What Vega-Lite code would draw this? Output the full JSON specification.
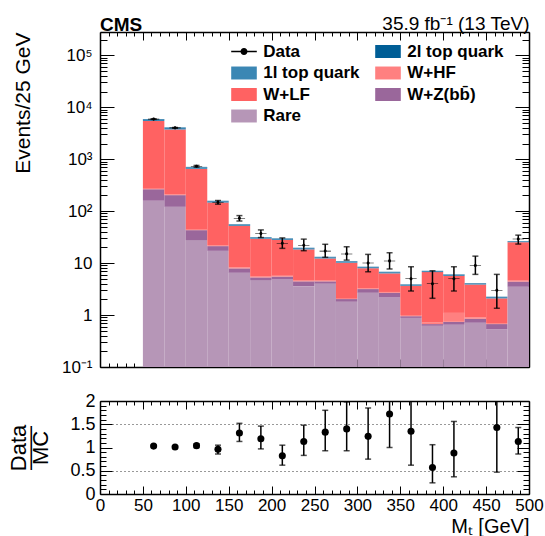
{
  "$schema": "https://vega.github.io/schema/vega-lite/v6.json",
  "background": "white",
  "padding": {"left": 7, "top": 14, "right": 0, "bottom": 0},
  "bounds": "flush",
  "spacing": 34,
  "config": {
    "font": "Liberation Sans",
    "view": {"stroke": null},
    "axis": {
      "domain": true, "domainColor": "black", "domainWidth": 1.5,
      "tickColor": "black", "tickWidth": 1, "labelColor": "black", "titleColor": "black",
      "grid": false, "labelFont": "Liberation Sans", "titleFont": "Liberation Sans",
      "titleFontWeight": "normal", "zindex": 2, "labelOverlap": false, "labelFlush": false, "labelBound": false
    }
  },
  "datasets": {
    "mc": [
      {"lo":50,"hi":75,"p":"Rare","n":158},{"lo":50,"hi":75,"p":"W+Z(bb\u0304)","n":107},{"lo":50,"hi":75,"p":"W+HF","n":15},{"lo":50,"hi":75,"p":"W+LF","n":5150},{"lo":50,"hi":75,"p":"1l top quark","n":350},{"lo":50,"hi":75,"p":"2l top quark","n":120},
      {"lo":75,"hi":100,"p":"Rare","n":121},{"lo":75,"hi":100,"p":"W+Z(bb\u0304)","n":82},{"lo":75,"hi":100,"p":"W+HF","n":8},{"lo":75,"hi":100,"p":"W+LF","n":3509},{"lo":75,"hi":100,"p":"1l top quark","n":260},{"lo":75,"hi":100,"p":"2l top quark","n":90},
      {"lo":100,"hi":125,"p":"Rare","n":27.7},{"lo":100,"hi":125,"p":"W+Z(bb\u0304)","n":15.3},{"lo":100,"hi":125,"p":"W+HF","n":2},{"lo":100,"hi":125,"p":"W+LF","n":605},{"lo":100,"hi":125,"p":"1l top quark","n":45},{"lo":100,"hi":125,"p":"2l top quark","n":15},
      {"lo":125,"hi":150,"p":"Rare","n":17.2},{"lo":125,"hi":150,"p":"W+Z(bb\u0304)","n":4.0},{"lo":125,"hi":150,"p":"W+HF","n":0.6},{"lo":125,"hi":150,"p":"W+LF","n":124.2},{"lo":125,"hi":150,"p":"1l top quark","n":9},{"lo":125,"hi":150,"p":"2l top quark","n":3},
      {"lo":150,"hi":175,"p":"Rare","n":6.5},{"lo":150,"hi":175,"p":"W+Z(bb\u0304)","n":1.4},{"lo":150,"hi":175,"p":"W+HF","n":0.3},{"lo":150,"hi":175,"p":"W+LF","n":43.8},{"lo":150,"hi":175,"p":"1l top quark","n":3},{"lo":150,"hi":175,"p":"2l top quark","n":1},
      {"lo":175,"hi":200,"p":"Rare","n":4.7},{"lo":175,"hi":200,"p":"W+Z(bb\u0304)","n":0.6},{"lo":175,"hi":200,"p":"W+HF","n":0.2},{"lo":175,"hi":200,"p":"W+LF","n":23.9},{"lo":175,"hi":200,"p":"1l top quark","n":1.7},{"lo":175,"hi":200,"p":"2l top quark","n":0.5},
      {"lo":200,"hi":225,"p":"Rare","n":4.8},{"lo":200,"hi":225,"p":"W+Z(bb\u0304)","n":0.7},{"lo":200,"hi":225,"p":"W+HF","n":0.2},{"lo":200,"hi":225,"p":"W+LF","n":22.2},{"lo":200,"hi":225,"p":"1l top quark","n":1.5},{"lo":200,"hi":225,"p":"2l top quark","n":0.5},
      {"lo":225,"hi":250,"p":"Rare","n":3.6},{"lo":225,"hi":250,"p":"W+Z(bb\u0304)","n":0.85},{"lo":225,"hi":250,"p":"W+HF","n":0.15},{"lo":225,"hi":250,"p":"W+LF","n":13.7},{"lo":225,"hi":250,"p":"1l top quark","n":1.0},{"lo":225,"hi":250,"p":"2l top quark","n":0.4},
      {"lo":250,"hi":275,"p":"Rare","n":4.0},{"lo":250,"hi":275,"p":"W+Z(bb\u0304)","n":0.45},{"lo":250,"hi":275,"p":"W+HF","n":0.15},{"lo":250,"hi":275,"p":"W+LF","n":7.65},{"lo":250,"hi":275,"p":"1l top quark","n":0.7},{"lo":250,"hi":275,"p":"2l top quark","n":0.25},
      {"lo":275,"hi":300,"p":"Rare","n":1.8},{"lo":275,"hi":300,"p":"W+Z(bb\u0304)","n":0.23},{"lo":275,"hi":300,"p":"W+HF","n":0.1},{"lo":275,"hi":300,"p":"W+LF","n":8.02},{"lo":275,"hi":300,"p":"1l top quark","n":0.55},{"lo":275,"hi":300,"p":"2l top quark","n":0.2},
      {"lo":300,"hi":325,"p":"Rare","n":2.68},{"lo":300,"hi":325,"p":"W+Z(bb\u0304)","n":0.48},{"lo":300,"hi":325,"p":"W+HF","n":0.1},{"lo":300,"hi":325,"p":"W+LF","n":4.69},{"lo":300,"hi":325,"p":"1l top quark","n":0.4},{"lo":300,"hi":325,"p":"2l top quark","n":0.15},
      {"lo":325,"hi":350,"p":"Rare","n":2.19},{"lo":325,"hi":350,"p":"W+Z(bb\u0304)","n":0.49},{"lo":325,"hi":350,"p":"W+HF","n":0.1},{"lo":325,"hi":350,"p":"W+LF","n":3.55},{"lo":325,"hi":350,"p":"1l top quark","n":0.35},{"lo":325,"hi":350,"p":"2l top quark","n":0.12},
      {"lo":350,"hi":375,"p":"Rare","n":0.88},{"lo":350,"hi":375,"p":"W+Z(bb\u0304)","n":0.07},{"lo":350,"hi":375,"p":"W+HF","n":0.05},{"lo":350,"hi":375,"p":"W+LF","n":2.65},{"lo":350,"hi":375,"p":"1l top quark","n":0.2},{"lo":350,"hi":375,"p":"2l top quark","n":0.05},
      {"lo":375,"hi":400,"p":"Rare","n":0.62},{"lo":375,"hi":400,"p":"W+Z(bb\u0304)","n":0.05},{"lo":375,"hi":400,"p":"W+HF","n":0.05},{"lo":375,"hi":400,"p":"W+LF","n":5.98},{"lo":375,"hi":400,"p":"1l top quark","n":0.3},{"lo":375,"hi":400,"p":"2l top quark","n":0.1},
      {"lo":400,"hi":425,"p":"Rare","n":0.65},{"lo":400,"hi":425,"p":"W+Z(bb\u0304)","n":0.09},{"lo":400,"hi":425,"p":"W+HF","n":0.36},{"lo":400,"hi":425,"p":"W+LF","n":4.56},{"lo":400,"hi":425,"p":"1l top quark","n":0.3},{"lo":400,"hi":425,"p":"2l top quark","n":0.1},
      {"lo":425,"hi":450,"p":"Rare","n":0.71},{"lo":425,"hi":450,"p":"W+Z(bb\u0304)","n":0.14},{"lo":425,"hi":450,"p":"W+HF","n":0.05},{"lo":425,"hi":450,"p":"W+LF","n":2.96},{"lo":425,"hi":450,"p":"1l top quark","n":0.2},{"lo":425,"hi":450,"p":"2l top quark","n":0.06},
      {"lo":450,"hi":475,"p":"Rare","n":0.53},{"lo":450,"hi":475,"p":"W+Z(bb\u0304)","n":0.14},{"lo":450,"hi":475,"p":"W+HF","n":0.03},{"lo":450,"hi":475,"p":"W+LF","n":1.39},{"lo":450,"hi":475,"p":"1l top quark","n":0.12},{"lo":450,"hi":475,"p":"2l top quark","n":0.04},
      {"lo":475,"hi":500,"p":"Rare","n":3.5},{"lo":475,"hi":500,"p":"W+Z(bb\u0304)","n":0.9},{"lo":475,"hi":500,"p":"W+HF","n":0.2},{"lo":475,"hi":500,"p":"W+LF","n":20.6},{"lo":475,"hi":500,"p":"1l top quark","n":1.0},{"lo":475,"hi":500,"p":"2l top quark","n":0.3}
    ],
    "obs": [
      {"c":62.5,"n":5900,"lo":5823,"hi":5977,"p":"Data"},
      {"c":87.5,"n":4000,"lo":3937,"hi":4063,"p":"Data"},
      {"c":112.5,"n":730,"lo":703,"hi":757,"p":"Data"},
      {"c":137.5,"n":148,"lo":136,"hi":160,"p":"Data"},
      {"c":162.5,"n":73,"lo":64.5,"hi":82,"p":"Data"},
      {"c":187.5,"n":37,"lo":31,"hi":43.5,"p":"Data"},
      {"c":212.5,"n":24,"lo":19.2,"hi":30.5,"p":"Data"},
      {"c":237.5,"n":22,"lo":17.3,"hi":28.9,"p":"Data"},
      {"c":262.5,"n":17,"lo":12.9,"hi":23,"p":"Data"},
      {"c":287.5,"n":15,"lo":11.4,"hi":20.6,"p":"Data"},
      {"c":312.5,"n":10,"lo":6.8,"hi":14.7,"p":"Data"},
      {"c":337.5,"n":11,"lo":7.7,"hi":15.8,"p":"Data"},
      {"c":362.5,"n":5,"lo":2.9,"hi":8.5,"p":"Data"},
      {"c":387.5,"n":4,"lo":2.1,"hi":7.1,"p":"Data"},
      {"c":412.5,"n":5,"lo":2.9,"hi":8.5,"p":"Data"},
      {"c":437.5,"n":9,"lo":6.06,"hi":13.6,"p":"Data"},
      {"c":462.5,"n":3,"lo":1.35,"hi":6.06,"p":"Data"},
      {"c":487.5,"n":29,"lo":23.2,"hi":34.5,"p":"Data"}
    ],
    "ratio": [
      {"c":62.5,"r":1.03,"lo":1.01,"hi":1.05},
      {"c":87.5,"r":1.01,"lo":0.99,"hi":1.03},
      {"c":112.5,"r":1.04,"lo":1.0,"hi":1.08},
      {"c":137.5,"r":0.96,"lo":0.86,"hi":1.05},
      {"c":162.5,"r":1.31,"lo":1.13,"hi":1.52},
      {"c":187.5,"r":1.19,"lo":0.97,"hi":1.46},
      {"c":212.5,"r":0.82,"lo":0.62,"hi":1.05},
      {"c":237.5,"r":1.13,"lo":0.83,"hi":1.48},
      {"c":262.5,"r":1.33,"lo":0.93,"hi":1.8},
      {"c":287.5,"r":1.4,"lo":0.93,"hi":1.98},
      {"c":312.5,"r":1.24,"lo":0.75,"hi":1.85},
      {"c":337.5,"r":1.72,"lo":1.0,"hi":2.5},
      {"c":362.5,"r":1.35,"lo":0.62,"hi":2.5},
      {"c":387.5,"r":0.57,"lo":0.24,"hi":1.06},
      {"c":412.5,"r":0.88,"lo":0.37,"hi":1.56},
      {"c":462.5,"r":1.43,"lo":0.47,"hi":2.5},
      {"c":487.5,"r":1.13,"lo":0.86,"hi":1.43}
    ]
  },
  "vconcat": [
    {
      "width": 429,
      "height": 335,
      "title": {"text": "CMS", "anchor": "start", "frame": "group", "fontSize": 19, "fontWeight": "bold", "font": "Liberation Sans", "baseline": "alphabetic", "offset": -36, "color": "black"},
      "resolve": {"axis": {"x": "independent", "y": "independent"}},
      "layer": [
        {
          "data": {"name": "mc"},
          "transform": [{"stack": "n", "groupby": ["lo"], "as": ["y0", "y1"]}],
          "mark": {"type": "rect"},
          "encoding": {
            "x": {"field": "lo", "type": "quantitative", "scale": {"domain": [0, 500], "nice": false},
              "axis": {"orient": "bottom", "values": [0,10,20,30,40,50,60,70,80,90,100,110,120,130,140,150,160,170,180,190,200,210,220,230,240,250,260,270,280,290,300,310,320,330,340,350,360,370,380,390,400,410,420,430,440,450,460,470,480,490,500],
                "labels": false, "title": null,
                "tickSize": {"condition": {"test": "datum.value % 50 === 0", "value": -8}, "value": -4}}},
            "x2": {"field": "hi"},
            "y": {"field": "y1", "type": "quantitative", "scale": {"type": "log", "domain": [0.1, 280000], "nice": false, "clamp": true},
              "axis": {"orient": "left",
                "values": [0.1,0.2,0.3,0.4,0.5,0.6,0.7,0.8,0.9,1,2,3,4,5,6,7,8,9,10,20,30,40,50,60,70,80,90,100,200,300,400,500,600,700,800,900,1000,2000,3000,4000,5000,6000,7000,8000,9000,10000,20000,30000,40000,50000,60000,70000,80000,90000,100000,200000],
                "labelExpr": "datum.value===0.1?'10⁻¹':datum.value===1?'1':datum.value===10?'10':datum.value===100?'10²':datum.value===1000?'10³':datum.value===10000?'10⁴':datum.value===100000?'10⁵':''",
                "tickSize": {"condition": {"test": "abs(log(datum.value)/LN10 - round(log(datum.value)/LN10)) < 0.001", "value": -14}, "value": -7},
                "labelPadding": 22, "labelFontSize": 17,
                "title": "Events/25 GeV", "titleFontSize": 21, "titleAnchor": "end", "titleAlign": "right", "titleBaseline": "alphabetic", "titleX": -71, "titleY": 0, "titleAngle": -90}},
            "y2": {"field": "y0"},
            "color": {"field": "p", "type": "nominal",
              "scale": {"domain": ["Data", "2l top quark", "1l top quark", "W+HF", "W+LF", "W+Z(bb\u0304)", "Rare"],
                "range": ["#000000", "#005e96", "#3b87b4", "#ff8080", "#ff6262", "#9a679b", "#b696b7"]}}
          }
        },
        {
          "data": {"name": "obs"},
          "mark": {"type": "rule", "color": "black", "strokeWidth": 1.5},
          "encoding": {
            "x": {"field": "c", "type": "quantitative", "scale": {"domain": [0, 500], "nice": false}, "axis": null},
            "y": {"field": "lo", "type": "quantitative", "scale": {"type": "log", "domain": [0.1, 280000], "nice": false, "clamp": true}, "axis": null},
            "y2": {"field": "hi"}
          }
        },
        {
          "data": {"name": "obs"},
          "transform": [{"fold": ["lo", "hi"], "as": ["end", "v"]}],
          "mark": {"type": "tick", "orient": "horizontal", "color": "black", "size": 6, "thickness": 1.5},
          "encoding": {
            "x": {"field": "c", "type": "quantitative", "scale": {"domain": [0, 500], "nice": false}, "axis": null},
            "y": {"field": "v", "type": "quantitative", "scale": {"type": "log", "domain": [0.1, 280000], "nice": false, "clamp": true}, "axis": null}
          }
        },
        {
          "data": {"name": "obs"},
          "mark": {"type": "point", "filled": true, "opacity": 1, "size": 50},
          "encoding": {
            "x": {"field": "c", "type": "quantitative", "scale": {"domain": [0, 500], "nice": false},
              "axis": {"orient": "top", "values": [0,10,20,30,40,50,60,70,80,90,100,110,120,130,140,150,160,170,180,190,200,210,220,230,240,250,260,270,280,290,300,310,320,330,340,350,360,370,380,390,400,410,420,430,440,450,460,470,480,490,500],
                "labels": false, "title": "35.9 fb⁻¹ (13 TeV)", "titleFontSize": 19, "titleAnchor": "end", "titleAlign": "right", "titleBaseline": "alphabetic", "titleX": 429, "titleY": -3,
                "tickSize": {"condition": {"test": "datum.value % 50 === 0", "value": -8}, "value": -4}}},
            "y": {"field": "n", "type": "quantitative", "scale": {"type": "log", "domain": [0.1, 280000], "nice": false, "clamp": true},
              "axis": {"orient": "right",
                "values": [0.1,0.2,0.3,0.4,0.5,0.6,0.7,0.8,0.9,1,2,3,4,5,6,7,8,9,10,20,30,40,50,60,70,80,90,100,200,300,400,500,600,700,800,900,1000,2000,3000,4000,5000,6000,7000,8000,9000,10000,20000,30000,40000,50000,60000,70000,80000,90000,100000,200000],
                "labels": false, "title": null,
                "tickSize": {"condition": {"test": "abs(log(datum.value)/LN10 - round(log(datum.value)/LN10)) < 0.001", "value": -14}, "value": -7}}},
            "color": {"field": "p", "type": "nominal",
              "legend": {"orient": "none", "legendX": 135, "legendY": 10.5, "columns": 2, "direction": "horizontal", "title": null,
                "labelFontSize": 17, "labelFontWeight": "bold", "labelFont": "Liberation Sans", "labelColor": "black",
                "symbolSize": 256, "rowPadding": 4.5, "columnPadding": 15, "labelOffset": 10.2, "padding": 0,
                "encode": {"symbols": {"update": {"stroke": {"scale": "color", "field": "value"}, "strokeWidth": {"value": 1.5}}}}}},
            "shape": {"field": "p", "type": "nominal",
              "scale": {"domain": ["Data", "2l top quark", "1l top quark", "W+HF", "W+LF", "W+Z(bb\u0304)", "Rare"],
                "range": ["M-1.6,-0.08H1.6V0.08H-1.6ZM-0.44,0A0.44,0.44,0,1,1,0.44,0A0.44,0.44,0,1,1,-0.44,0Z", "M-1.6,-0.81H1.6V0.81H-1.6Z", "M-1.6,-0.81H1.6V0.81H-1.6Z", "M-1.6,-0.81H1.6V0.81H-1.6Z", "M-1.6,-0.81H1.6V0.81H-1.6Z", "M-1.6,-0.81H1.6V0.81H-1.6Z", "M-1.6,-0.81H1.6V0.81H-1.6Z"]},
              "legend": {"orient": "none", "legendX": 135, "legendY": 10.5, "columns": 2, "direction": "horizontal", "title": null,
                "labelFontSize": 17, "labelFontWeight": "bold", "labelFont": "Liberation Sans", "labelColor": "black",
                "symbolSize": 256, "rowPadding": 4.5, "columnPadding": 15, "labelOffset": 10.2, "padding": 0,
                "encode": {"symbols": {"update": {"stroke": {"scale": "color", "field": "value"}, "strokeWidth": {"value": 1.5}}}}}}
          }
        }
      ]
    },
    {
      "width": 429,
      "height": 93,
      "resolve": {"axis": {"x": "independent", "y": "independent"}},
      "layer": [
        {
          "mark": {"type": "rule", "color": "black", "strokeWidth": 2},
          "encoding": {
            "y": {"datum": 1, "type": "quantitative", "scale": {"domain": [0, 2], "nice": false}, "axis": null}
          }
        },
        {
          "data": {"name": "ratio"},
          "mark": {"type": "rule", "color": "black", "strokeWidth": 1.5, "clip": true},
          "encoding": {
            "x": {"field": "c", "type": "quantitative", "scale": {"domain": [0, 500], "nice": false},
              "axis": {"orient": "bottom", "values": [0,10,20,30,40,50,60,70,80,90,100,110,120,130,140,150,160,170,180,190,200,210,220,230,240,250,260,270,280,290,300,310,320,330,340,350,360,370,380,390,400,410,420,430,440,450,460,470,480,490,500],
                "labelExpr": "datum.value % 50 === 0 ? datum.label : ''", "labelFontSize": 17, "labelPadding": 11,
                "tickSize": {"condition": {"test": "datum.value % 50 === 0", "value": -8}, "value": -4},
                "title": "Mₜ [GeV]", "titleFontSize": 20, "titleAnchor": "end", "titleAlign": "right", "titleBaseline": "alphabetic", "titleX": 429, "titleY": 38}},
            "y": {"field": "lo", "type": "quantitative", "scale": {"domain": [0, 2], "nice": false},
              "axis": {"orient": "left",
                "values": [0,0.1,0.2,0.3,0.4,0.5,0.6,0.7,0.8,0.9,1,1.1,1.2,1.3,1.4,1.5,1.6,1.7,1.8,1.9,2],
                "labelExpr": "datum.value===0?'0':datum.value===0.5?'0.5':datum.value===1?'1':datum.value===1.5?'1.5':datum.value===2?'2':''",
                "tickSize": {"condition": {"test": "abs(datum.value*2 - round(datum.value*2)) < 0.001", "value": -12}, "value": -6},
                "labelPadding": 17, "labelFontSize": 18,
                "grid": true, "gridDash": [1, 3], "gridColor": "black",
                "gridOpacity": {"condition": {"test": "datum.value===0.5||datum.value===1.5", "value": 0.8}, "value": 0},
                "title": ["Data", "——", "MC"], "titleFontSize": 22, "titleLineHeight": 11, "titleAngle": -90, "titleAlign": "center", "titleBaseline": "alphabetic", "titleX": -75, "titleY": 46.5}},
            "y2": {"field": "hi"}
          }
        },
        {
          "data": {"name": "ratio"},
          "transform": [{"fold": ["lo", "hi"], "as": ["end", "v"]}],
          "mark": {"type": "tick", "orient": "horizontal", "color": "black", "size": 6, "thickness": 1.5, "clip": true},
          "encoding": {
            "x": {"field": "c", "type": "quantitative", "scale": {"domain": [0, 500], "nice": false}, "axis": null},
            "y": {"field": "v", "type": "quantitative", "scale": {"domain": [0, 2], "nice": false}, "axis": null}
          }
        },
        {
          "data": {"name": "ratio"},
          "mark": {"type": "point", "filled": true, "opacity": 1, "size": 50, "color": "black"},
          "encoding": {
            "x": {"field": "c", "type": "quantitative", "scale": {"domain": [0, 500], "nice": false},
              "axis": {"orient": "top", "values": [0,10,20,30,40,50,60,70,80,90,100,110,120,130,140,150,160,170,180,190,200,210,220,230,240,250,260,270,280,290,300,310,320,330,340,350,360,370,380,390,400,410,420,430,440,450,460,470,480,490,500],
                "labels": false, "title": null,
                "tickSize": {"condition": {"test": "datum.value % 50 === 0", "value": -8}, "value": -4}}},
            "y": {"field": "r", "type": "quantitative", "scale": {"domain": [0, 2], "nice": false},
              "axis": {"orient": "right",
                "values": [0,0.1,0.2,0.3,0.4,0.5,0.6,0.7,0.8,0.9,1,1.1,1.2,1.3,1.4,1.5,1.6,1.7,1.8,1.9,2],
                "labels": false, "title": null,
                "tickSize": {"condition": {"test": "abs(datum.value*2 - round(datum.value*2)) < 0.001", "value": -12}, "value": -6}}}
          }
        }
      ]
    }
  ]
}
